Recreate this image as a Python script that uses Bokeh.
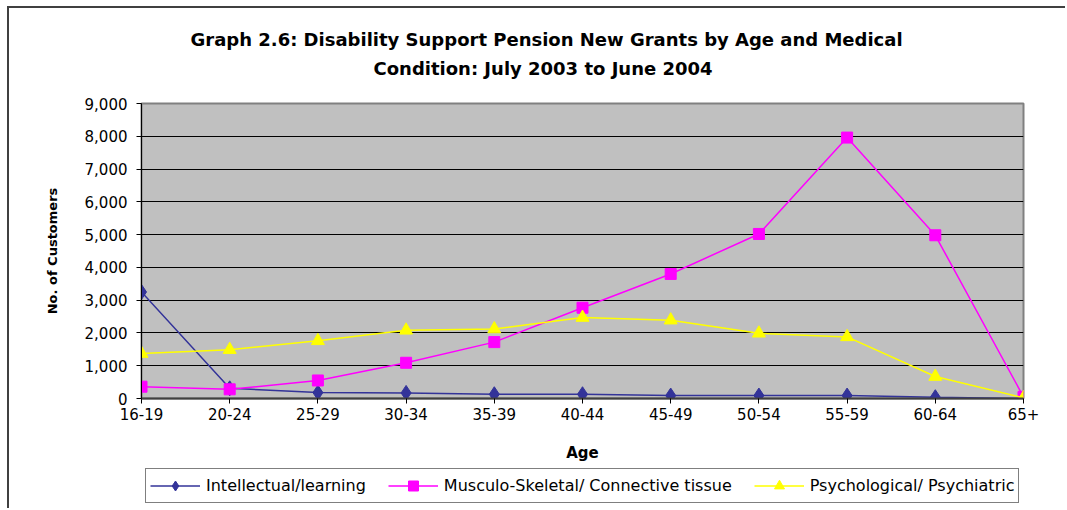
from bokeh.plotting import figure
from bokeh.layouts import column
from bokeh.models import (Range1d, FixedTicker, NumeralTickFormatter, Legend, LegendItem,
                          Title, ColumnDataSource)
from bokeh.embed import file_html
from bokeh.resources import INLINE

categories = ["16-19", "20-24", "25-29", "30-34", "35-39", "40-44",
              "45-49", "50-54", "55-59", "60-64", "65+"]
intellectual = [3250, 310, 180, 170, 130, 130, 90, 90, 90, 40, 0]
musculo = [360, 280, 550, 1090, 1720, 2770, 3800, 5020, 7960, 4980, 50]
psych = [1370, 1490, 1760, 2080, 2120, 2470, 2390, 1990, 1880, 670, 20]
series_names = ["Intellectual/learning", "Musculo-Skeletal/ Connective tissue",
                "Psychological/ Psychiatric"]
title_lines = ["Graph 2.6: Disability Support Pension New Grants by Age and Medical",
               "Condition:  July 2003 to June 2004"]
y_ticks = list(range(0, 9001, 1000))

xs = list(range(len(categories)))
FONT = "DejaVu Sans"

p = figure(width=1056, height=458, output_backend="svg", toolbar_location=None,
           x_range=Range1d(0, len(categories) - 1), y_range=Range1d(0, 9000),
           min_border_left=132, min_border_right=42, min_border_top=95,
           min_border_bottom=68, title=None)

p.background_fill_color = "#C0C0C0"
p.border_fill_color = "white"
p.outline_line_color = "#808080"
p.outline_line_width = 2

# axes
p.xaxis.ticker = FixedTicker(ticks=xs)
p.xaxis.major_label_overrides = {i: c for i, c in enumerate(categories)}
p.yaxis.ticker = FixedTicker(ticks=y_ticks)
p.yaxis.formatter = NumeralTickFormatter(format="0,0")
for ax in (p.xaxis[0], p.yaxis[0]):
    ax.major_tick_out = 5
    ax.major_tick_in = 0
    ax.minor_tick_out = 0
    ax.minor_tick_in = 0
    ax.major_tick_line_color = "black"
    ax.major_label_text_font = FONT
    ax.major_label_text_font_size = "15px"
    ax.major_label_text_color = "black"
    ax.axis_label_text_font = FONT
    ax.axis_label_text_font_style = "bold"
    ax.axis_label_text_color = "black"
p.yaxis.axis_line_color = "black"
p.yaxis.axis_line_width = 1
p.xaxis.axis_line_color = "#404040"
p.xaxis.axis_line_width = 2
p.yaxis.major_label_standoff = 9
p.xaxis.major_label_standoff = 4
p.yaxis.axis_label = "No. of Customers"
p.yaxis.axis_label_text_font_size = "13px"
p.yaxis.axis_label_standoff = 22
p.xaxis.axis_label = "Age"
p.xaxis.axis_label_text_font_size = "15px"
p.xaxis.axis_label_standoff = 21

p.xgrid.grid_line_color = None
p.ygrid.grid_line_color = "black"
p.ygrid.grid_line_width = 1

# legend figure (a strip below the chart)
lf = figure(width=1056, height=42, output_backend="svg", toolbar_location=None,
            x_range=Range1d(100, 101), y_range=Range1d(100, 101),
            x_axis_type=None, y_axis_type=None, min_border=0)
lf.outline_line_color = None
lf.background_fill_color = "white"
lf.border_fill_color = "white"
lf.xgrid.grid_line_color = None
lf.ygrid.grid_line_color = None

# series
colors = ["#333399", "#FF00FF", "#FFFF00"]
markers = ["diamond", "square", "triangle"]
sizes = [15, 11, 13]
values = [intellectual, musculo, psych]
items = []
for name, vals, col, mk, sz in zip(series_names, values, colors, markers, sizes):
    src = ColumnDataSource(data=dict(x=xs, y=vals))
    p.line("x", "y", source=src, line_color=col, line_width=1.5)
    p.scatter("x", "y", source=src, marker=mk, size=sz, fill_color=col, line_color=col)
    ln = lf.line("x", "y", source=src, line_color=col, line_width=1.5)
    sc = lf.scatter("x", "y", source=src, marker=mk, size=sz, fill_color=col, line_color=col)
    items.append(LegendItem(label=name, renderers=[ln, sc]))

legend = Legend(items=items, orientation="horizontal", location=(4, 5),
                border_line_color="black", border_line_width=1,
                background_fill_color="white", background_fill_alpha=1,
                glyph_width=50, glyph_height=25, label_standoff=6, spacing=22,
                padding=4, margin=0,
                label_text_font=FONT, label_text_font_size="16px",
                label_text_color="black")
lf.add_layout(legend, "center")

# title: a spacer next to the plot, then the second line, then the first line
p.add_layout(Title(text=" ", standoff=2, text_font=FONT, text_font_size="18px"), "above")
p.add_layout(Title(text=title_lines[1], align="left", offset=232, standoff=0,
                   text_font=FONT, text_font_style="bold", text_font_size="18px",
                   text_color="black"), "above")
p.add_layout(Title(text=title_lines[0], align="left", offset=49, standoff=12,
                   text_font=FONT, text_font_style="bold", text_font_size="18px",
                   text_color="black"), "above")

layout = column(p, lf, spacing=0)
layout.styles = {"border-top": "2px solid #404040", "border-left": "2px solid #404040",
                 "margin-left": "7px", "margin-top": "6px"}

open("out.html", "w").write(file_html(layout, INLINE))
